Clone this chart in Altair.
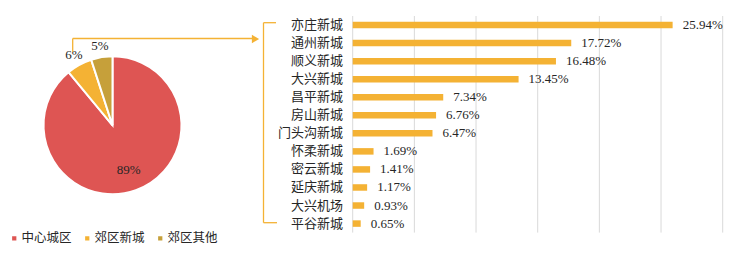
import altair as alt
import pandas as pd

# ---- data ----
pie_cats = ["中心城区", "郊区新城", "郊区其他"]
pie_vals = [89, 6, 5]
pie_colors = ["#DE5553", "#F4B234", "#C6A03A"]

bar_cats = ["亦庄新城", "通州新城", "顺义新城", "大兴新城", "昌平新城", "房山新城",
            "门头沟新城", "怀柔新城", "密云新城", "延庆新城", "大兴机场", "平谷新城"]
bar_vals = [25.94, 17.72, 16.48, 13.45, 7.34, 6.76, 6.47, 1.69, 1.41, 1.17, 0.93, 0.65]
x_ticks = [0, 5, 10, 15, 20, 25, 30]

FONT = "Liberation Serif, Noto Sans CJK SC"
TXT = "#262626"
ORANGE = "#F4B234"

pie_df = pd.DataFrame({"cat": pie_cats, "val": pie_vals, "ord": list(range(len(pie_cats)))})
bar_df = pd.DataFrame({"cat": bar_cats, "val": bar_vals})
tick_df = pd.DataFrame({"t": x_ticks})
dummy = alt.Data(values=[{"a": 0}])

CX, CY, R = 112.5, 125.3, 69

pie = alt.Chart(pie_df).mark_arc(radius=R, stroke="white", strokeWidth=2).encode(
    theta=alt.Theta("val:Q", stack=True),
    color=alt.Color("cat:N", sort=pie_cats,
                    scale=alt.Scale(domain=pie_cats, range=pie_colors),
                    legend=alt.Legend(orient="none", legendX=8, legendY=232,
                                      direction="horizontal", title=None,
                                      symbolType="square", symbolSize=18,
                                      symbolStrokeWidth=0, labelFont=FONT,
                                      labelFontSize=12.5, labelColor=TXT,
                                      labelOffset=1, columnPadding=9, padding=0)),
    order=alt.Order("ord:Q"),
    x=alt.value(CX), y=alt.value(CY),
)

# label angles computed from the cumulative shares (radians, clockwise from 12 o'clock)
pie_txt = alt.Chart(pie_df).transform_window(
    cum="sum(val)", sort=[alt.SortField("ord")], frame=[None, 0]
).transform_joinaggregate(
    tot="sum(val)"
).transform_calculate(
    mid="(datum.cum - datum.val / 2) / datum.tot * 2 * PI",
    lab="datum.val + '%'",
    lr="datum.val > 50 ? 48 : 80",
).mark_text(font=FONT, fontSize=13, color=TXT).encode(
    theta=alt.Theta("mid:Q", scale=None, stack=False),
    radius=alt.Radius("lr:Q", scale=None),
    text="lab:N",
    x=alt.value(CX), y=alt.value(CY),
)

xs = alt.Scale(domain=[0, 30], range=[352.7, 722.7], nice=False, zero=True)
ys = alt.Scale(domain=bar_cats, range=[16, 232.6], paddingInner=0, paddingOuter=0)

grid = alt.Chart(tick_df).mark_rule(color="#D9D9D9", strokeWidth=1).encode(
    x=alt.X("t:Q", scale=xs,
            axis=alt.Axis(values=x_ticks, labelExpr="datum.value + '%'", domain=False,
                          ticks=False, tickSize=0, grid=False, labelPadding=8,
                          labelFont=FONT, labelFontSize=13, labelColor=TXT,
                          labelFlush=False, labelOverlap=False, title=None)),
    y=alt.value(16), y2=alt.value(232.6),
)

bars = alt.Chart(bar_df).mark_bar(color=ORANGE, size=6.5).encode(
    x=alt.X("val:Q", scale=xs, axis=None),
    y=alt.Y("cat:N", sort=bar_cats, scale=ys, axis=None),
)

bar_lab = alt.Chart(bar_df).transform_calculate(
    lab="format(datum.val, '.2f') + '%'"
).mark_text(align="left", baseline="middle", dx=10, font=FONT, fontSize=13, color=TXT).encode(
    x=alt.X("val:Q", scale=xs, axis=None),
    y=alt.Y("cat:N", sort=bar_cats, scale=ys, axis=None),
    text="lab:N",
)

cat_lab = alt.Chart(bar_df).mark_text(align="right", baseline="middle", font=FONT,
                                      fontSize=13, color=TXT).encode(
    x=alt.value(343),
    y=alt.Y("cat:N", sort=bar_cats, scale=ys, axis=None),
    text="cat:N",
)

def rule(x, y, x2=None, y2=None, w=1.3):
    enc = {"x": alt.value(x), "y": alt.value(y)}
    if x2 is not None:
        enc["x2"] = alt.value(x2)
    if y2 is not None:
        enc["y2"] = alt.value(y2)
    return alt.Chart(dummy).mark_rule(color=ORANGE, strokeWidth=w).encode(**enc)

conn_v = rule(72.7, 52, y2=38.5)
conn_h = rule(72.7, 38.5, x2=252)
arrow = alt.Chart(dummy).mark_point(shape="triangle-right", filled=True, color=ORANGE,
                                    size=70, opacity=1).encode(
    x=alt.value(255.5), y=alt.value(39))
br_v = rule(263.5, 22.7, y2=222.7)
br_t = rule(263.5, 22.7, x2=276)
br_b = rule(263.5, 222.7, x2=277)

chart = alt.layer(
    grid, bars, bar_lab, cat_lab, pie, pie_txt,
    conn_v, conn_h, arrow, br_v, br_t, br_b,
).properties(
    width=745, height=232,
    background="white",
    autosize=alt.AutoSizeParams(type="none"),
    padding={"left": 0, "top": 0, "right": 0, "bottom": 29},
).configure_view(stroke=None)

chart.save("out.html", embed_options={"renderer": "svg", "actions": False})
